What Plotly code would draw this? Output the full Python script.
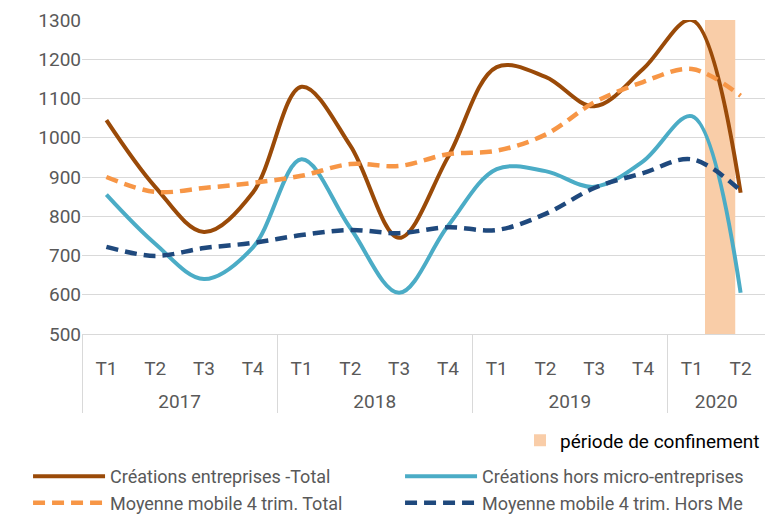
import plotly.graph_objects as go

# Données trimestrielles
annees = ["2017"] * 4 + ["2018"] * 4 + ["2019"] * 4 + ["2020"] * 2
trimestres = ["T1", "T2", "T3", "T4"] * 3 + ["T1", "T2"]

creations_total = [1045, 875, 760, 860, 1130, 980, 745, 950, 1180, 1155, 1080, 1175, 1300, 860]
creations_hors_me = [855, 730, 640, 720, 945, 770, 605, 775, 920, 915, 875, 940, 1055, 605]
mm_total = [900, 862, 872, 885, 903, 933, 928, 958, 967, 1008, 1090, 1142, 1175, 1107]
mm_hors_me = [722, 699, 719, 732, 752, 765, 757, 772, 765, 806, 872, 910, 945, 865]

# Période de confinement (barre de fond)
confinement_annee = ["2020"]
confinement_trim = ["T2"]
confinement_y = [1300]

# l'année est mise sur une seconde ligne pour l'espacer des trimestres
x = [["<br>" + a for a in annees], trimestres]
police = "Roboto"
gris = "#595959"

fig = go.Figure()

series = [
    ("Créations entreprises -Total", creations_total, "#9A4A08", "solid", 4),
    ("Créations hors micro-entreprises", creations_hors_me, "#4BACC6", "solid", 4),
    ("Moyenne mobile 4 trim. Total", mm_total, "#F79646", "12px,7px", 4.5),
    ("Moyenne mobile 4 trim. Hors Me", mm_hors_me, "#1F497D", "12px,7px", 4.5),
]
for nom, valeurs, couleur, tirets, epaisseur in series:
    fig.add_trace(go.Scatter(
        x=x, y=valeurs, mode="lines", name=nom,
        line=dict(color=couleur, width=epaisseur, dash=tirets,
                  shape="spline", smoothing=1),
        legend="legend",
    ))

# les barres sont dessinées sous les courbes
fig.add_trace(go.Bar(
    x=[["<br>" + a for a in confinement_annee], confinement_trim],
    y=confinement_y,
    width=0.62, offset=-0.73,
    marker=dict(color="#F9CDA8", line=dict(width=0)),
    name="période de confinement",
    legend="legend2",
))

fig.update_layout(
    width=765, height=515,
    margin=dict(l=82, r=0, t=20, b=181, autoexpand=False),
    plot_bgcolor="white", paper_bgcolor="white",
    font=dict(family=police, size=18, color=gris),
    xaxis=dict(
        type="multicategory",
        range=[-0.5, 13.5],
        showline=True, linecolor="#D9D9D9", linewidth=1,
        showgrid=False, ticks="",
        ticklabelstandoff=17,
        showdividers=True, dividercolor="#D9D9D9", dividerwidth=1,
        tickfont=dict(family=police, size=19, color=gris),
    ),
    yaxis=dict(
        range=[500, 1300], dtick=100,
        showgrid=True, gridcolor="#D9D9D9", gridwidth=1,
        zeroline=False, showline=False, ticks="",
        tickfont=dict(family=police, size=19, color=gris),
    ),
    legend=dict(
        orientation="h", traceorder="normal",
        xref="paper", yref="paper",
        x=-0.079, y=-0.395, xanchor="left", yanchor="top",
        entrywidth=285, entrywidthmode="pixels",
        font=dict(family=police, size=18, color=gris),
        itemwidth=72, bgcolor="rgba(0,0,0,0)",
    ),
    legend2=dict(
        xref="container", yref="container",
        x=1.0, y=0.145, xanchor="right", yanchor="middle",
        font=dict(family=police, size=19, color="#000000"),
        bgcolor="rgba(0,0,0,0)",
    ),
)

fig.write_html("out.html", config={"displayModeBar": False},
               post_script="document.body.style.margin = '0';")
